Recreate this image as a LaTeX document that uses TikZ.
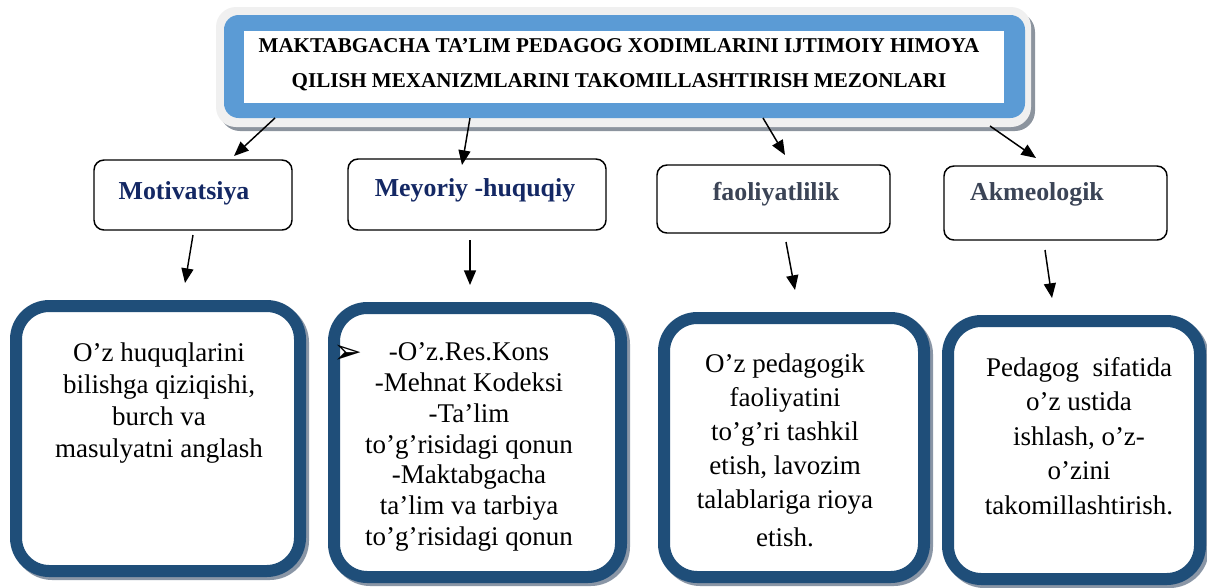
\documentclass[tikz,border=0pt]{standalone}
\usepackage{fontspec}
\setmainfont{Liberation Serif}
\newfontfamily\symfont{DejaVu Sans}
\usetikzlibrary{arrows.meta}

\definecolor{titleblue}{RGB}{91,155,213}
\definecolor{framegray}{RGB}{240,240,240}
\definecolor{frameshade}{RGB}{140,148,158}
\definecolor{navyline}{RGB}{31,78,121}
\definecolor{boxshade}{RGB}{138,150,166}
\definecolor{critnavy}{RGB}{20,40,100}
\definecolor{critslate}{RGB}{59,68,86}

\begin{document}
\begin{tikzpicture}[x=0.75pt,y=0.75pt,yscale=-1,xscale=1,
  titletext/.style={font=\fontsize{15.8}{26.25}\selectfont\bfseries, align=center, inner sep=0},
  critbox/.style={draw=black, line width=1.1pt, rounded corners=7.5pt, fill=white},
  crittext/.style={font=\fontsize{19.4}{22}\selectfont\bfseries, inner sep=0},
  bigbox/.style={draw=navyline, line width=9pt, rounded corners=25pt, fill=white},
  bigshade/.style={draw=boxshade, line width=9pt, rounded corners=25pt},
  desctext/.style={align=center, inner sep=0},
  arr/.style={line width=1.1pt, -{Triangle[length=11pt,width=9pt]}}
]
\useasboundingbox (0,0) rectangle (1207,587);

%Title frame
\fill[frameshade, rounded corners=15pt] (220,12) rectangle (1035,131);
\fill[framegray, rounded corners=15pt] (216,7) rectangle (1031,127);
\fill[titleblue, rounded corners=11pt] (224,15) rectangle (1025,118);
\fill[white] (244,31) rectangle (1004,103);

% Text Node
\node[titletext] (title) at (619,65) {MAKTABGACHA TA’LIM PEDAGOG XODIMLARINI IJTIMOIY HIMOYA\\QILISH MEXANIZMLARINI TAKOMILLASHTIRISH MEZONLARI};

%Criteria boxes
\draw[critbox] (94,160) rectangle (292,230);
\draw[critbox] (348,159) rectangle (606,230);
\draw[critbox] (657,165) rectangle (890,233);
\draw[critbox] (944,166) rectangle (1167,240);

% Text Node
\node[crittext, text=critnavy] (motiv) at (184,193) {Motivatsiya};
% Text Node
\node[crittext, text=critnavy] (meyor) at (475,190) {Meyoriy -huquqiy};
% Text Node
\node[crittext, text=critslate] (faol) at (776,194) {faoliyatlilik};
% Text Node
\node[crittext, text=critslate] (akme) at (1037,194) {Akmeologik};

%Description boxes
\draw[bigshade] (19,309) rectangle (303,574);
\draw[bigbox] (16,306) rectangle (300,571);
\draw[bigshade] (337,311) rectangle (624,580);
\draw[bigbox] (334,308) rectangle (621,577);
\draw[bigshade] (667,321) rectangle (927,580);
\draw[bigbox] (664,318) rectangle (924,577);
\draw[bigshade] (951,324) rectangle (1203,582);
\draw[bigbox] (948,321) rectangle (1200,579);

% Text Node
\node[desctext, font=\fontsize{20.25}{24}\selectfont] (motivdesc) at (159,403) {O’z huquqlarini\\bilishga qiziqishi,\\burch va\\masulyatni anglash};
% Text Node
\node[inner sep=0, font=\fontsize{26}{26}\symfont] (bullet) at (348,354) {➢};
% Text Node
\node[desctext, font=\fontsize{20.25}{23.1}\selectfont] (meyordesc) at (469,447) {-O’z.Res.Kons\\-Mehnat Kodeksi\\-Ta’lim\\to’g’risidagi qonun\\-Maktabgacha\\ta’lim va tarbiya\\to’g’risidagi qonun};
% Text Node
\node[desctext, font=\fontsize{20.25}{25.5}\selectfont] (faoldesc) at (785,450) {O’z pedagogik\\faoliyatini\\to’g’ri tashkil\\etish, lavozim\\talablariga rioya\\[3pt]etish.};
% Text Node
\node[desctext, font=\fontsize{20.25}{25.9}\selectfont] (akmedesc) at (1079,436) {Pedagog\ \ sifatida\\o’z ustida\\ishlash, o’z-\\o’zini\\takomillashtirish.};

%Straight Lines
\coordinate (t1) at (275,118); \coordinate (h1) at (234,156);
\coordinate (t2) at (470,118); \coordinate (h2) at (462,165);
\coordinate (t3) at (763,118); \coordinate (h3) at (785,155);
\coordinate (t4) at (990,126); \coordinate (h4) at (1036,158);
\draw[arr] (t1) -- (h1);
\draw[arr] (t2) -- (h2);
\draw[arr] (t3) -- (h3);
\draw[arr] (t4) -- (h4);

%Straight Lines
\coordinate (s1) at (193,235); \coordinate (e1) at (185,283);
\coordinate (s2) at (470,240); \coordinate (e2) at (470,285);
\coordinate (s3) at (786,242); \coordinate (e3) at (795,290);
\coordinate (s4) at (1045,250); \coordinate (e4) at (1052,298);
\draw[arr] (s1) -- (e1);
\draw[arr] (s2) -- (e2);
\draw[arr] (s3) -- (e3);
\draw[arr] (s4) -- (e4);

\end{tikzpicture}
\end{document}
